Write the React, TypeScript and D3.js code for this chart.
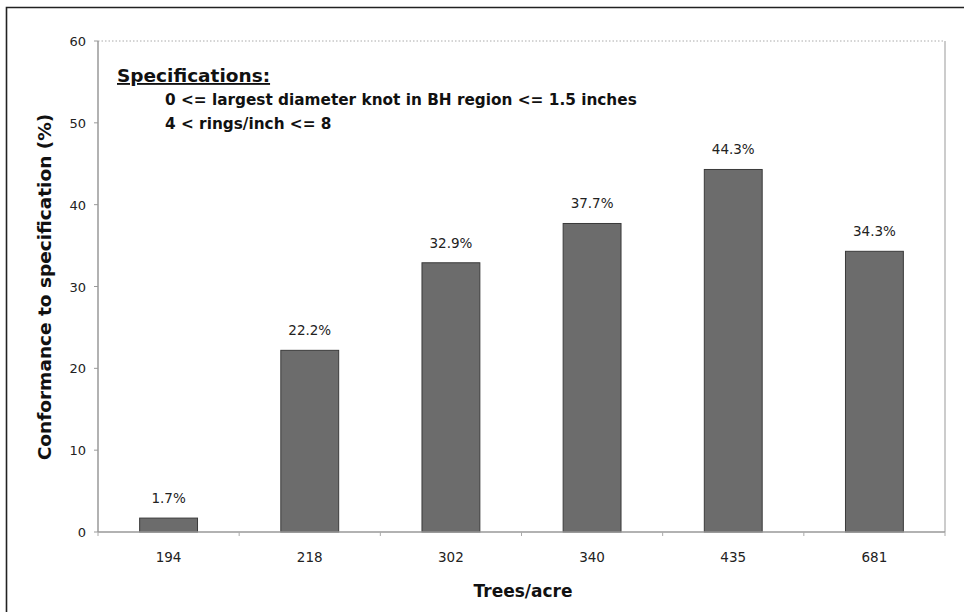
import React from "react";
import * as d3 from "d3";

const categories = ["194", "218", "302", "340", "435", "681"];
const values = [1.7, 22.2, 32.9, 37.7, 44.3, 34.3];
const valueLabels = ["1.7%", "22.2%", "32.9%", "37.7%", "44.3%", "34.3%"];
const yTicks = [0, 10, 20, 30, 40, 50, 60];
const specTitle = "Specifications:";
const specLines = ["0 <= largest diameter knot in BH region <= 1.5 inches", "4 < rings/inch <= 8"];
const yTitle = "Conformance to specification (%)";
const xTitle = "Trees/acre";

export default function App() {
  const W = 964, H = 612;
  const left = 98, right = 945, top = 41, bottom = 532;
  const x = d3.scaleBand<string>().domain(categories).range([left, right]).paddingInner(0.59).paddingOuter(0.295);
  const xb = d3.scaleBand<string>().domain(categories).range([left, right]);
  const y = d3.scaleLinear().domain([0, 60]).range([bottom, top]);
  const font = "'DejaVu Sans', Verdana, sans-serif";
  return (
    <svg width={W} height={H} style={{ position: "absolute", left: 0, top: 0, background: "#fff" }}>
      <rect x={0} y={0} width={W} height={H} fill="#fff" />
      <path d={`M6.5,${H + 2} V7.5 H${W + 2}`} fill="none" stroke="#222" strokeWidth={1.6} />
      <line x1={left} x2={right} y1={y(60)} y2={y(60)} stroke="#aaa" strokeDasharray="1.5,2" />
      <line x1={right} x2={right} y1={top} y2={bottom} stroke="#bbb" strokeWidth={1.5} />
      {categories.map((c, i) => (
        <g key={c}>
          <rect x={x(c)!} y={y(values[i])} width={x.bandwidth()} height={bottom - y(values[i])} fill="#6c6c6c" stroke="#3a3a3a" strokeWidth={1} />
          <text x={x(c)! + x.bandwidth() / 2} y={y(values[i]) - 15} textAnchor="middle" fontFamily={font} fontSize={13.5} fill="#222">{valueLabels[i]}</text>
        </g>
      ))}
      <line x1={left} x2={left} y1={top} y2={bottom} stroke="#999" strokeWidth={1.5} />
      {yTicks.map((t) => (
        <g key={t}>
          <line x1={left - 4} x2={left} y1={y(t)} y2={y(t)} stroke="#999" />
          <text x={86} y={y(t) + 5} textAnchor="end" fontFamily={font} fontSize={13} fill="#222">{t}</text>
        </g>
      ))}
      <line x1={left} x2={right} y1={bottom} y2={bottom} stroke="#999" strokeWidth={1.5} />
      {[...categories.map((c) => xb(c)!), right].map((p, i) => (
        <line key={i} x1={p} x2={p} y1={bottom} y2={bottom + 4} stroke="#aaa" />
      ))}
      {categories.map((c) => (
        <text key={c} x={xb(c)! + xb.bandwidth() / 2} y={562} textAnchor="middle" fontFamily={font} fontSize={13.5} fill="#222">{c}</text>
      ))}
      <text x={523} y={597} textAnchor="middle" fontFamily={font} fontWeight="bold" fontSize={17} fill="#111">{xTitle}</text>
      <text transform={`translate(51,287) rotate(-90)`} textAnchor="middle" fontFamily={font} fontWeight="bold" fontSize={18.5} fill="#111">{yTitle}</text>
      <text x={117} y={82} fontFamily={font} fontWeight="bold" fontSize={18.5} fill="#111" textDecoration="underline">{specTitle}</text>
      {specLines.map((s, i) => (
        <text key={i} x={165} y={105} dy={i * 24} fontFamily={font} fontWeight="bold" fontSize={15.3} fill="#111">{s}</text>
      ))}
    </svg>
  );
}
